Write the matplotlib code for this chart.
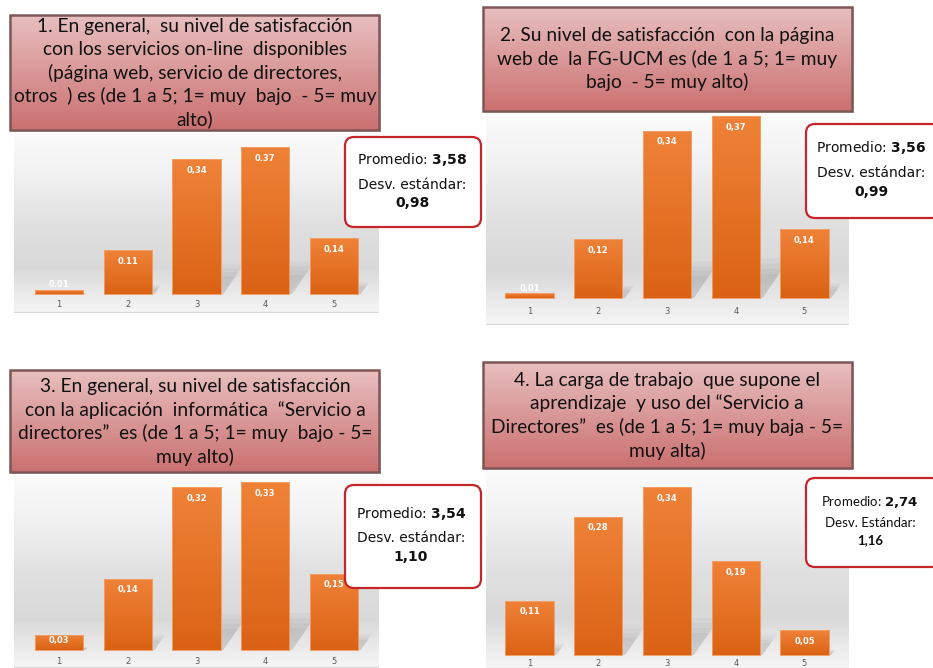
import numpy as np
import matplotlib
matplotlib.use('Agg')
import matplotlib.pyplot as plt
from matplotlib.patches import Rectangle, FancyBboxPatch, Polygon
from matplotlib.colors import LinearSegmentedColormap

W, H = 933, 668

# ── Data ─────────────────────────────────────────────────────────────────────
categories = ['1', '2', '3', '4', '5']
q1_vals = [0.01, 0.11, 0.34, 0.37, 0.14]
q2_vals = [0.01, 0.12, 0.34, 0.37, 0.14]
q3_vals = [0.03, 0.14, 0.32, 0.33, 0.15]
q4_vals = [0.11, 0.28, 0.34, 0.19, 0.05]
# label text as printed on the bars (panel 1 mixes '.' and ',')
q1_labels = ['0.01', '0.11', '0,34', '0.37', '0,14']

q1_title = ['1. En general,  su nivel de satisfacción',
            'con los servicios on-line  disponibles',
            '(página web, servicio de directores,',
            'otros  ) es (de 1 a 5; 1= muy  bajo  - 5= muy',
            'alto)']
q2_title = ['2. Su nivel de satisfacción  con la página',
            'web de  la FG-UCM es (de 1 a 5; 1= muy',
            'bajo  - 5= muy alto)']
q3_title = ['3. En general, su nivel de satisfacción',
            'con la aplicación  informática  “Servicio a',
            'directores”  es (de 1 a 5; 1= muy  bajo - 5=',
            'muy alto)']
q4_title = ['4. La carga de trabajo  que supone el',
            'aprendizaje  y uso del “Servicio a',
            'Directores”  es (de 1 a 5; 1= muy baja - 5=',
            'muy alta)']

means = ['3,58', '3,56', '3,54', '2,74']
stds = ['0,98', '0,99', '1,10', '1,16']
std_labels = ['Desv. estándar:', 'Desv. estándar:', 'Desv. estándar:', 'Desv. Estándar:']


def fmt(v):
    return f'{v:.2f}'.replace('.', ',')


# ── Layout (pixels, y downwards) ─────────────────────────────────────────────
panels = [
    dict(vals=q1_vals, labels=q1_labels, title=q1_title, head=(10, 15, 379, 130), tcx=195,
         tbase=32, tstep=23.3, chart=(14, 133, 379, 313), base=294, scale=397, c1=59, tick=10,
         box=(345, 137, 481, 227), scx=412, sy=(160, 185, 203), small=False),
    dict(vals=q2_vals, labels=[fmt(v) for v in q2_vals], title=q2_title, head=(483, 7, 852, 111),
         tcx=667, tbase=41, tstep=23.5, chart=(486, 113, 849, 325), base=298, scale=492, c1=529.5,
         tick=13, box=(806, 124, 940, 218), scx=871, sy=(148, 173, 192), small=False),
    dict(vals=q3_vals, labels=[fmt(v) for v in q3_vals], title=q3_title, head=(10, 370, 379, 472),
         tcx=195, tbase=392, tstep=23.7, chart=(14, 475, 379, 668), base=650, scale=509, c1=59,
         tick=11, box=(345, 485, 481, 588), scx=411, sy=(513, 538, 557), small=False),
    dict(vals=q4_vals, labels=[fmt(v) for v in q4_vals], title=q4_title, head=(483, 362, 852, 468),
         tcx=667, tbase=386, tstep=23.5, chart=(486, 470, 849, 668), base=655, scale=494, c1=529.5,
         tick=8, box=(806, 478, 940, 567), scx=870, sy=(502, 523, 540), small=True),
]
STEP = 68.75   # px between bar centres
BAR_W = 0.70

bar_cmap = LinearSegmentedColormap.from_list('bar', ['#db6214', '#ef8238'])
head_cmap = LinearSegmentedColormap.from_list('head', ['#cb7070', '#e8bfbf'])
# chart background: grey band low in the plot, white at the top
bg_pos = [0.0, 0.08, 0.25, 0.5, 0.78, 1.0]
bg_col = [0.965, 0.93, 0.85, 0.88, 0.95, 0.985]

fig = plt.figure(figsize=(W / 100, H / 100), dpi=100)
fig.patch.set_facecolor('white')

for i, p in enumerate(panels):
    x0, y0, x1, y1 = p['chart']
    ax = fig.add_axes([x0 / W, 1 - y1 / H, (x1 - x0) / W, (y1 - y0) / H])
    t = np.linspace(0, 1, 256)
    g = np.interp(t, bg_pos, bg_col)[::-1]
    ax.imshow(np.dstack([g, g, g]).reshape(256, 1, 3), extent=(0, 1, 0, 1),
              transform=ax.transAxes, aspect='auto', zorder=0)
    xs = np.arange(1, len(categories) + 1)

    # soft perspective shadows behind the bars
    for xv, v in zip(xs, p['vals']):
        hpx = v * p['scale']
        for k, a in enumerate([0.04, 0.05, 0.06, 0.07]):
            sh = (0.22 - 0.03 * k) * v
            dx = (0.15 - 0.02 * k) * hpx / STEP
            xl, xr = xv - BAR_W / 2, xv + BAR_W / 2
            ax.add_patch(Polygon([(xl, 0), (xr + 0.04, 0), (xr + dx + 0.04, sh), (xl + dx, sh)],
                                 closed=True, facecolor='#555555', edgecolor='none',
                                 alpha=a, zorder=1))

    bars = ax.bar(xs, p['vals'], width=BAR_W, color='#e57027', edgecolor='#f3a36c',
                  lw=0.7, zorder=2)
    grad = np.linspace(0, 1, 128).reshape(-1, 1)
    for b in bars:
        im = ax.imshow(grad, cmap=bar_cmap, origin='lower', aspect='auto', zorder=3,
                       extent=(b.get_x(), b.get_x() + b.get_width(), 0, b.get_height()))
        im.set_clip_path(b)
        ax.add_patch(Rectangle((b.get_x(), 0), b.get_width(), b.get_height(), fill=False,
                               edgecolor='#f3a36c', lw=0.6, zorder=4))
    thr = 21 / p['scale']
    for xv, v, lab in zip(xs, p['vals'], p['labels']):
        ax.annotate(lab, xy=(xv, max(v, thr)), xytext=(0, -8),
                    textcoords='offset points', ha='center', va='center',
                    color='white', fontsize=6, fontweight='bold', zorder=5)
    ax.set_xlim(1 - (p['c1'] - x0) / STEP, 1 + (x1 - p['c1']) / STEP)
    ax.set_ylim(-(y1 - p['base']) / p['scale'], (p['base'] - y0) / p['scale'])
    ax.set_xticks(xs)
    ax.set_xticklabels(categories)
    pad_px = (p['base'] + p['tick'] - 4) - y1
    ax.tick_params(axis='x', length=0, labelsize=6, labelcolor='#595959', pad=pad_px * 0.72)
    ax.set_yticks([])
    for s in ax.spines.values():
        s.set_visible(False)
    ax.axhline(-(y1 - p['base']) / p['scale'] * 0.97, color='#d9d9d9', lw=1, zorder=1)

# ── Overlay: header boxes and statistics boxes ──────────────────────────────
ov = fig.add_axes([0, 0, 1, 1], zorder=10)
ov.patch.set_alpha(0)
ov.axis('off')

for i, p in enumerate(panels):
    hx0, hy0, hx1, hy1 = p['head']
    ov.add_patch(Rectangle((hx0 + 1.5, hy0 + 1.5), hx1 - hx0, hy1 - hy0,
                           facecolor='#9a9a9a', edgecolor='none', alpha=0.45, zorder=1))
    rect = Rectangle((hx0, hy0), hx1 - hx0, hy1 - hy0, facecolor='#d99494',
                     edgecolor='none', zorder=2)
    ov.add_patch(rect)
    hg = np.linspace(1, 0, 128).reshape(-1, 1)
    im = ov.imshow(hg, cmap=head_cmap, extent=(hx0, hx1, hy1, hy0), origin='upper',
                   aspect='auto', zorder=2.5)
    im.set_clip_path(rect)
    ov.add_patch(Rectangle((hx0, hy0), hx1 - hx0, hy1 - hy0, facecolor='none',
                           edgecolor='#7d5656', lw=1.8, zorder=3))
    for k, line in enumerate(p['title']):
        ov.text(p['tcx'], p['tbase'] + k * p['tstep'], line, ha='center', va='baseline',
                fontsize=13.8, family='Lato', color='#111111', zorder=4)

    bx0, by0, bx1, by1 = p['box']
    ov.add_patch(FancyBboxPatch((bx0, by0), bx1 - bx0, by1 - by0,
                                boxstyle='round,pad=0,rounding_size=9',
                                facecolor='white', edgecolor='#c4262c', lw=1.6, zorder=5))
    fam = 'Lato' if p['small'] else 'DejaVu Sans'
    fs = 9.5 if p['small'] else 10
    ov.text(p['scx'], p['sy'][0],
            'Promedio: ' + r'$\bf{' + means[i].replace(',', '{,}') + '}$',
            ha='center', va='center', fontsize=fs, family=fam, color='#111111', zorder=6)
    ov.text(p['scx'], p['sy'][1], std_labels[i], ha='center', va='center',
            fontsize=fs, family=fam, color='#111111', zorder=6)
    ov.text(p['scx'], p['sy'][2], stds[i], ha='center', va='center',
            fontsize=fs, family=fam, fontweight='bold', color='#111111', zorder=6)

ov.set_xlim(0, W)
ov.set_ylim(H, 0)

fig.savefig('out.png', dpi=100, facecolor='white')
